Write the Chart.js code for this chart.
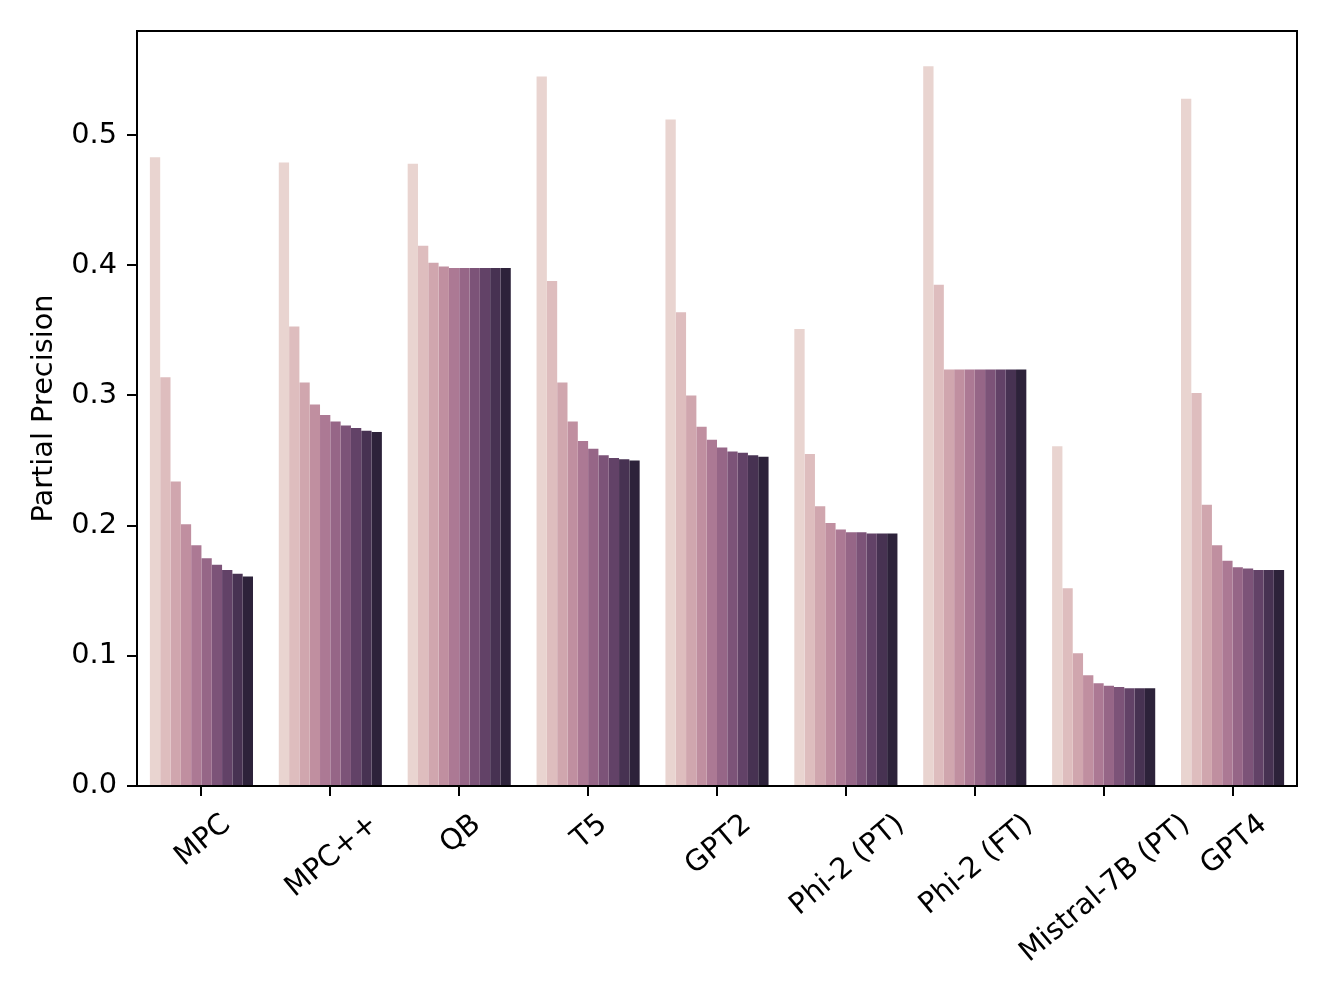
<!DOCTYPE html>
<html>
<head>
<meta charset="utf-8">
<script src="https://cdn.jsdelivr.net/npm/chart.js@4/dist/chart.umd.min.js"></script>
<style>
  html, body { margin: 0; padding: 0; background: #ffffff; }
  #wrap { width: 1328px; height: 996px; position: relative; }
</style>
</head>
<body>
<div id="wrap"><canvas id="c" width="1328" height="996"></canvas></div>
<script>
// ---- data ----
const categories = ['MPC', 'MPC++', 'QB', 'T5', 'GPT2', 'Phi-2 (PT)', 'Phi-2 (FT)', 'Mistral-7B (PT)', 'GPT4'];
const hueLevels = ['1', '2', '3', '4', '5', '6', '7', '8', '9', '10'];
const mpc      = [0.483, 0.314, 0.234, 0.201, 0.185, 0.175, 0.170, 0.166, 0.163, 0.161];
const mpcPlus  = [0.479, 0.353, 0.310, 0.293, 0.285, 0.280, 0.277, 0.275, 0.273, 0.272];
const qb       = [0.478, 0.415, 0.402, 0.399, 0.398, 0.398, 0.398, 0.398, 0.398, 0.398];
const t5       = [0.545, 0.388, 0.310, 0.280, 0.265, 0.259, 0.254, 0.252, 0.251, 0.250];
const gpt2     = [0.512, 0.364, 0.300, 0.276, 0.266, 0.260, 0.257, 0.256, 0.254, 0.253];
const phi2PT   = [0.351, 0.255, 0.215, 0.202, 0.197, 0.195, 0.195, 0.194, 0.194, 0.194];
const phi2FT   = [0.553, 0.385, 0.320, 0.320, 0.320, 0.320, 0.320, 0.320, 0.320, 0.320];
const mistral  = [0.261, 0.152, 0.102, 0.085, 0.079, 0.077, 0.076, 0.075, 0.075, 0.075];
const gpt4     = [0.528, 0.302, 0.216, 0.185, 0.173, 0.168, 0.167, 0.166, 0.166, 0.166];
const yTicks   = [0.0, 0.1, 0.2, 0.3, 0.4, 0.5];
const yTitle   = 'Partial Precision';

const groups = [mpc, mpcPlus, qb, t5, gpt2, phi2PT, phi2FT, mistral, gpt4];

// ---- palette: seaborn cubehelix_palette(10), desaturated by 0.75 ----
function cubehelixColor(x) {
  const start = 0, rot = 0.4, gamma = 1.0, hue = 0.8;
  x = Math.floor(x * 256) / 255;
  const xg = Math.pow(x, gamma);
  const a = hue * xg * (1 - xg) / 2;
  const phi = 2 * Math.PI * (start / 3 + rot * x);
  const f = (p0, p1) => Math.min(1, Math.max(0, xg + a * (p0 * Math.cos(phi) + p1 * Math.sin(phi))));
  return [f(-0.14861, 1.78277), f(-0.29227, -0.90649), f(1.97294, 0.0)];
}
function rgbToHls(r, g, b) {
  const mx = Math.max(r, g, b), mn = Math.min(r, g, b);
  const l = (mx + mn) / 2;
  if (mx === mn) return [0, l, 0];
  const d = mx - mn;
  const s = l <= 0.5 ? d / (mx + mn) : d / (2 - mx - mn);
  const rc = (mx - r) / d, gc = (mx - g) / d, bc = (mx - b) / d;
  let h;
  if (r === mx) h = bc - gc; else if (g === mx) h = 2 + rc - bc; else h = 4 + gc - rc;
  h = ((h / 6) % 1 + 1) % 1;
  return [h, l, s];
}
function hlsToRgb(h, l, s) {
  if (s === 0) return [l, l, l];
  const m2 = l <= 0.5 ? l * (1 + s) : l + s - l * s;
  const m1 = 2 * l - m2;
  const v = (hh) => {
    hh = ((hh % 1) + 1) % 1;
    if (hh < 1 / 6) return m1 + (m2 - m1) * hh * 6;
    if (hh < 0.5) return m2;
    if (hh < 2 / 3) return m1 + (m2 - m1) * (2 / 3 - hh) * 6;
    return m1;
  };
  return [v(h + 1 / 3), v(h), v(h - 1 / 3)];
}
function palette(n) {
  const out = [];
  for (let i = 0; i < n; i++) {
    const x = 0.85 + (0.15 - 0.85) * i / (n - 1);
    const [r, g, b] = cubehelixColor(x);
    const [h, l, s] = rgbToHls(r, g, b);
    const [r2, g2, b2] = hlsToRgb(h, l, s * 0.75);
    out.push('rgb(' + Math.round(r2 * 255) + ',' + Math.round(g2 * 255) + ',' + Math.round(b2 * 255) + ')');
  }
  return out;
}
const colors = palette(hueLevels.length);

const datasets = hueLevels.map((lvl, j) => ({
  label: lvl,
  data: groups.map(g => g[j]),
  backgroundColor: colors[j],
  borderWidth: 0,
  categoryPercentage: 0.8,
  barPercentage: 1.0
}));

const FONT = 'DejaVu Sans';
const FS = 28.8;

const framePlugin = {
  id: 'frame',
  afterDraw(chart) {
    const ctx = chart.ctx, a = chart.chartArea;
    ctx.save();
    ctx.strokeStyle = '#000';
    ctx.lineWidth = 2;
    ctx.beginPath();
    ctx.moveTo(a.left, a.top);
    ctx.lineTo(a.right, a.top);
    ctx.lineTo(a.right, a.bottom);
    ctx.stroke();
    ctx.restore();

    // rotated x tick labels, centred like matplotlib (ha='center', rotation=40)
    const xs = chart.scales.x;
    const ang = 40 * Math.PI / 180;
    const topY = a.bottom + 10 + 10;
    ctx.save();
    ctx.fillStyle = '#000';
    ctx.font = FS + 'px "' + FONT + '"';
    ctx.textAlign = 'left';
    ctx.textBaseline = 'alphabetic';
    categories.forEach((lab, i) => {
      const x = xs.getPixelForValue(i);
      const w = ctx.measureText(lab).width;
      const h = 1.164 * FS;
      const bh = w * Math.sin(ang) + h * Math.cos(ang);
      const cy = topY + bh / 2;
      ctx.save();
      ctx.translate(x, cy);
      ctx.rotate(-ang);
      ctx.fillText(lab, -w / 2, 0.346 * FS);
      ctx.restore();
    });
    ctx.restore();
  }
};

new Chart(document.getElementById('c'), {
  type: 'bar',
  data: { labels: categories, datasets: datasets },
  options: {
    responsive: false,
    animation: false,
    devicePixelRatio: 1,
    layout: { padding: { top: 31, right: 31, left: 0, bottom: 0 } },
    plugins: { legend: { display: false }, tooltip: { enabled: false } },
    scales: {
      x: {
        offset: true,
        grid: { display: true, drawOnChartArea: false, drawTicks: true, tickLength: 10, offset: false, color: '#000', lineWidth: 2 },
        border: { display: true, color: '#000', width: 2 },
        ticks: { display: false },
        afterFit(s) { s.height = 210; }
      },
      y: {
        min: 0,
        max: 0.58,
        afterBuildTicks(s) { s.ticks = yTicks.map(v => ({ value: v })); },
        grid: { display: true, drawOnChartArea: false, drawTicks: true, tickLength: 10, color: '#000', lineWidth: 2 },
        border: { display: true, color: '#000', width: 2 },
        ticks: {
          color: '#000',
          padding: 10,
          font: { family: FONT, size: FS },
          callback: (v) => Number(v).toFixed(1)
        },
        title: {
          display: true,
          text: yTitle,
          color: '#000',
          font: { family: FONT, size: FS },
          padding: { top: 27, bottom: 0 }
        },
        afterFit(s) { s.width = 137; }
      }
    }
  },
  plugins: [framePlugin]
});
</script>
</body>
</html>
